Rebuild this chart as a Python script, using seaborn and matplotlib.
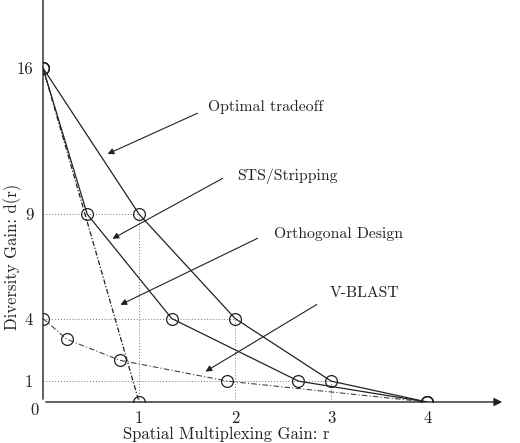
import matplotlib
matplotlib.use("Agg")
import matplotlib.pyplot as plt
import seaborn as sns
import pandas as pd

sns.set_theme(style="white")
plt.rcParams['font.family'] = ['cmr10', 'DejaVu Serif']
plt.rcParams['axes.formatter.use_mathtext'] = True

# Data
opt_r = [0, 1, 2, 3, 4]
opt_d = [16, 9, 4, 1, 0]
sts_r = [0, 0.46, 1.34, 2.66, 4]
sts_d = [16, 9, 4, 1, 0]
orth_r = [0, 1]
orth_d = [16, 0]
vb_r = [0, 0.25, 0.8, 1.92, 4]
vb_d = [4, 3, 2, 1, 0]
yticks = [1, 4, 9, 16]
xticks = [1, 2, 3, 4]

fig = plt.figure(figsize=(5.2, 4.43), dpi=100)
ax = fig.add_axes([43/520, 41/443, 462/520, 402/443])
ax.set_xlim(0, 4.81)
ax.set_ylim(0, 19.26)

lc = '#222222'
mk = dict(marker='o', markersize=8.5, markerfacecolor='none', markeredgecolor=lc, markeredgewidth=0.9)

# drop lines for optimal points
for r, d in zip(opt_r[1:4], opt_d[1:4]):
    ax.plot([0, r], [d, d], ls=(0, (1, 2)), color='#777777', lw=0.7)
    ax.plot([r, r], [0, d], ls=(0, (1, 2)), color='#777777', lw=0.7)

df_opt = pd.DataFrame({'r': opt_r, 'd': opt_d})
df_sts = pd.DataFrame({'r': sts_r, 'd': sts_d})
df_orth = pd.DataFrame({'r': orth_r, 'd': orth_d})
df_vb = pd.DataFrame({'r': vb_r, 'd': vb_d})

sns.lineplot(data=df_opt, x='r', y='d', sort=False, estimator=None, ax=ax, color=lc, lw=0.9, **mk)
sns.lineplot(data=df_sts, x='r', y='d', sort=False, estimator=None, ax=ax, color=lc, lw=0.9, **mk)
sns.lineplot(data=df_orth, x='r', y='d', sort=False, estimator=None, ax=ax, color=lc, lw=0.9,
             linestyle=(0, (4, 1.5, 1, 1.5)), **mk)
sns.lineplot(data=df_vb, x='r', y='d', sort=False, estimator=None, ax=ax, color='#444444', lw=0.8,
             linestyle=(0, (5, 2, 1, 2)), **mk)

for s in ['top', 'right', 'left', 'bottom']:
    ax.spines[s].set_visible(False)
ax.annotate('', xy=(1.0, 0), xytext=(0, 0), xycoords='axes fraction',
            arrowprops=dict(arrowstyle='-|>', color=lc, lw=1.0, mutation_scale=12), annotation_clip=False)
ax.annotate('', xy=(0, 1.02), xytext=(0, 0), xycoords='axes fraction',
            arrowprops=dict(arrowstyle='-', color=lc, lw=1.0), annotation_clip=False)

ax.set_xticks(xticks)
ax.set_xticklabels([str(v) for v in xticks])
ax.set_yticks(yticks)
ax.set_yticklabels([str(v) for v in yticks])
ax.tick_params(length=0, labelsize=12, colors='#222222')
ax.tick_params(axis='y', pad=7)
ax.tick_params(axis='x', pad=6)
ax.text(-0.085, -0.38, '0', fontsize=12, color='#222222', ha='center', va='center')

ax.set_xlabel('Spatial Multiplexing Gain: r', fontsize=12, color='#222222')
ax.set_ylabel('Diversity Gain: d(r)', fontsize=12, color='#222222')
ax.xaxis.set_label_coords(0.396, -0.062, transform=ax.transAxes)
ax.yaxis.set_label_coords(-0.045, 0.36, transform=ax.transAxes)

ann = [
    ('Optimal tradeoff', (1.72, 14.13), (1.635, 13.89), (0.646, 11.83)),
    ('STS/Stripping', (2.02, 10.83), (1.896, 10.78), (0.698, 7.76)),
    ('Orthogonal Design', (2.40, 8.05), (2.26, 7.9), (0.78, 4.6)),
    ('V-BLAST', (2.98, 5.22), (2.875, 4.74), (1.667, 1.39)),
]
for txt, tpos, tail, head in ann:
    ax.text(tpos[0], tpos[1], txt, fontsize=11.3, color='#222222', ha='left', va='center')
    ax.annotate('', xy=head, xytext=tail,
                arrowprops=dict(arrowstyle='-|>', color=lc, lw=0.8, mutation_scale=9))

fig.savefig('out.png', dpi=100)
